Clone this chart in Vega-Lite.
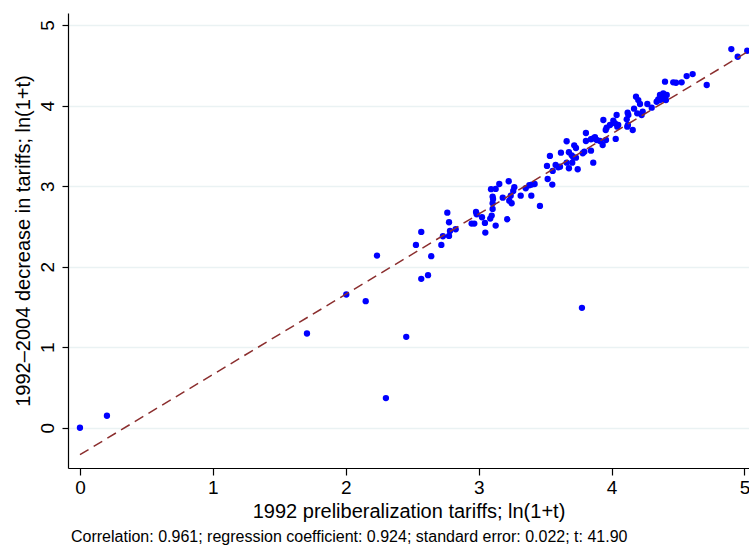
{
  "$schema": "https://vega.github.io/schema/vega-lite/v6.json",
  "width": 681,
  "height": 455,
  "autosize": {"type": "none"},
  "padding": {"left": 68, "top": 13, "right": 0, "bottom": 77},
  "background": "white",
  "config": {
    "font": "Liberation Sans",
    "view": {"stroke": null},
    "axis": {"labelFont": "Liberation Sans", "titleFont": "Liberation Sans", "titleFontWeight": "normal", "labelColor": "black", "titleColor": "black", "domainColor": "black", "tickColor": "black", "domainWidth": 1.2, "tickWidth": 1.2}
  },
  "title": {"text": "Correlation: 0.961; regression coefficient: 0.924; standard error: 0.022; t: 41.90", "orient": "bottom", "anchor": "start", "frame": "group", "fontSize": 16, "font": "Liberation Sans", "fontWeight": "normal", "color": "black", "offset": 8, "dx": 3},
  "datasets": {
    "pts": [
      {"x": 0, "y": 0}, {"x": 0.203, "y": 0.149}, {"x": 1.708, "y": 1.17}, {"x": 2.004, "y": 1.654},
      {"x": 2.15, "y": 1.572}, {"x": 2.235, "y": 2.138}, {"x": 2.302, "y": 0.368}, {"x": 2.455, "y": 1.129},
      {"x": 2.528, "y": 2.27}, {"x": 2.568, "y": 2.432}, {"x": 2.568, "y": 1.849}, {"x": 2.619, "y": 1.895},
      {"x": 2.643, "y": 2.13}, {"x": 2.719, "y": 2.27}, {"x": 2.731, "y": 2.378}, {"x": 2.764, "y": 2.671},
      {"x": 2.777, "y": 2.552}, {"x": 2.784, "y": 2.444}, {"x": 2.777, "y": 2.382}, {"x": 2.827, "y": 2.465},
      {"x": 2.947, "y": 2.535}, {"x": 2.967, "y": 2.535}, {"x": 2.98, "y": 2.68}, {"x": 2.985, "y": 2.651},
      {"x": 3.025, "y": 2.614}, {"x": 3.047, "y": 2.543}, {"x": 3.05, "y": 2.423}, {"x": 3.087, "y": 2.597},
      {"x": 3.098, "y": 2.634}, {"x": 3.105, "y": 2.717}, {"x": 3.105, "y": 2.788}, {"x": 3.108, "y": 2.841},
      {"x": 3.105, "y": 2.87}, {"x": 3.093, "y": 2.962}, {"x": 3.128, "y": 2.965}, {"x": 3.155, "y": 3.027},
      {"x": 3.128, "y": 2.51}, {"x": 3.181, "y": 2.857}, {"x": 3.215, "y": 2.589}, {"x": 3.226, "y": 3.061},
      {"x": 3.23, "y": 2.82}, {"x": 3.248, "y": 2.788}, {"x": 3.241, "y": 2.882}, {"x": 3.26, "y": 2.94},
      {"x": 3.268, "y": 2.986}, {"x": 3.316, "y": 2.882}, {"x": 3.354, "y": 2.974}, {"x": 3.381, "y": 3.011},
      {"x": 3.399, "y": 3.019}, {"x": 3.421, "y": 3.027}, {"x": 3.396, "y": 2.882}, {"x": 3.461, "y": 2.754},
      {"x": 3.519, "y": 3.089}, {"x": 3.554, "y": 3.019}, {"x": 3.514, "y": 3.251}, {"x": 3.536, "y": 3.375},
      {"x": 3.557, "y": 3.189}, {"x": 3.579, "y": 3.263}, {"x": 3.599, "y": 3.235}, {"x": 3.619, "y": 3.416},
      {"x": 3.662, "y": 3.557}, {"x": 3.679, "y": 3.421}, {"x": 3.662, "y": 3.292}, {"x": 3.679, "y": 3.222},
      {"x": 3.7, "y": 3.383}, {"x": 3.712, "y": 3.359}, {"x": 3.732, "y": 3.354}, {"x": 3.719, "y": 3.507},
      {"x": 3.732, "y": 3.474}, {"x": 3.704, "y": 3.292}, {"x": 3.745, "y": 3.21}, {"x": 3.783, "y": 3.408},
      {"x": 3.795, "y": 3.428}, {"x": 3.807, "y": 3.66}, {"x": 3.807, "y": 3.561}, {"x": 3.845, "y": 3.582},
      {"x": 3.862, "y": 3.594}, {"x": 3.875, "y": 3.607}, {"x": 3.888, "y": 3.573}, {"x": 3.845, "y": 3.44},
      {"x": 3.862, "y": 3.292}, {"x": 3.913, "y": 3.561}, {"x": 3.933, "y": 3.511}, {"x": 3.958, "y": 3.573},
      {"x": 3.938, "y": 3.821}, {"x": 3.956, "y": 3.697}, {"x": 3.963, "y": 3.726}, {"x": 3.988, "y": 3.759},
      {"x": 4.013, "y": 3.813}, {"x": 4.026, "y": 3.78}, {"x": 4.038, "y": 3.883}, {"x": 4.031, "y": 3.586},
      {"x": 4.043, "y": 3.738}, {"x": 4.05, "y": 3.759}, {"x": 4.114, "y": 3.83}, {"x": 4.121, "y": 3.912},
      {"x": 4.126, "y": 3.883}, {"x": 4.118, "y": 3.738}, {"x": 4.123, "y": 3.759}, {"x": 4.159, "y": 3.697},
      {"x": 4.169, "y": 3.962}, {"x": 4.184, "y": 4.11}, {"x": 4.201, "y": 4.069}, {"x": 4.214, "y": 4.02},
      {"x": 4.193, "y": 3.904}, {"x": 4.226, "y": 3.883}, {"x": 4.234, "y": 3.924}, {"x": 4.269, "y": 4.02},
      {"x": 4.302, "y": 3.974}, {"x": 4.339, "y": 4.048}, {"x": 4.351, "y": 4.078}, {"x": 4.364, "y": 4.132},
      {"x": 4.377, "y": 4.11}, {"x": 4.389, "y": 4.153}, {"x": 4.415, "y": 4.132}, {"x": 4.409, "y": 4.069},
      {"x": 4.394, "y": 4.078}, {"x": 4.364, "y": 4.069}, {"x": 4.402, "y": 4.297}, {"x": 4.464, "y": 4.289},
      {"x": 4.485, "y": 4.284}, {"x": 4.527, "y": 4.289}, {"x": 4.565, "y": 4.367}, {"x": 4.61, "y": 4.392},
      {"x": 4.716, "y": 4.256}, {"x": 4.901, "y": 4.702}, {"x": 4.949, "y": 4.607}, {"x": 5.021, "y": 4.681},
      {"x": 3.777, "y": 1.489}, {"x": 3.612, "y": 3.242}
    ],
    "fit": [
      {"x": 0, "y": -0.335},
      {"x": 5.034, "y": 4.679}
    ]
  },
  "layer": [
    {
      "data": {"name": "pts"},
      "mark": {"type": "point", "filled": true, "color": "#0000ff", "opacity": 1, "size": 40, "clip": true},
      "encoding": {
        "x": {"field": "x", "type": "quantitative", "scale": {"domain": [-0.09, 5.034], "nice": false, "zero": false},
          "axis": {"values": [0, 1, 2, 3, 4, 5], "format": "d", "title": "1992 preliberalization tariffs; ln(1+t)", "grid": false, "labelFontSize": 19, "titleFontSize": 20, "tickSize": 7, "labelPadding": 3, "titlePadding": 4, "labelFlush": false}},
        "y": {"field": "y", "type": "quantitative", "scale": {"domain": [-0.5, 5.15], "nice": false, "zero": false},
          "axis": {"values": [0, 1, 2, 3, 4, 5], "format": "d", "title": "1992–2004 decrease in tariffs; ln(1+t)", "grid": true, "gridColor": "#eaf2f3", "gridWidth": 1.5, "labelFontSize": 19, "titleFontSize": 20, "tickSize": 6, "labelAngle": -90, "labelAlign": "center", "labelBaseline": "bottom", "labelPadding": 5, "titlePadding": 5}}
      }
    },
    {
      "data": {"name": "fit"},
      "mark": {"type": "line", "color": "#8b2e2e", "strokeWidth": 1.5, "strokeDash": [10, 6], "clip": true},
      "encoding": {
        "x": {"field": "x", "type": "quantitative"},
        "y": {"field": "y", "type": "quantitative"}
      }
    }
  ]
}
